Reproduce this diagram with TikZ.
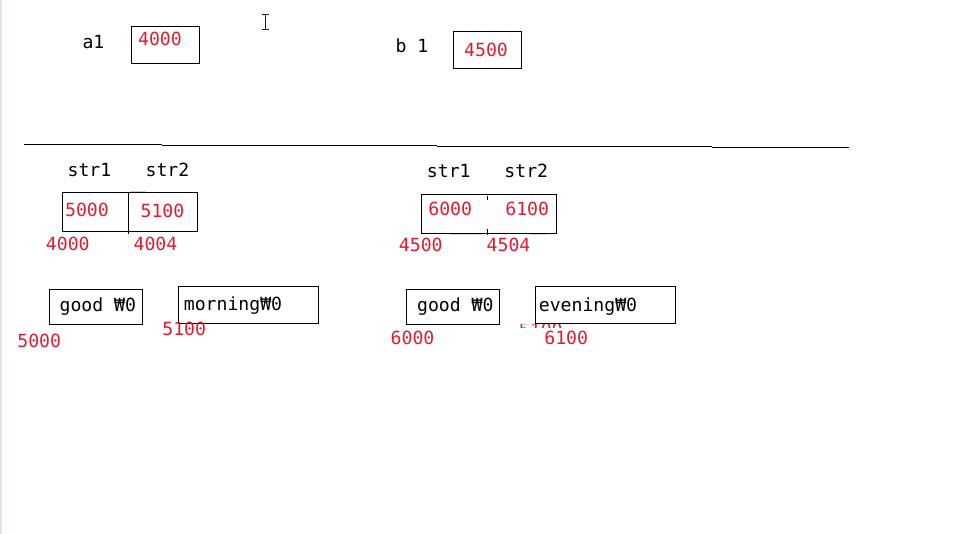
\documentclass[tikz,border=0pt]{standalone}
\usepackage{fontspec}
\setmainfont{DejaVu Sans Mono}
\definecolor{numred}{RGB}{222,30,48}
\definecolor{edge}{RGB}{222,226,240}
\definecolor{cursorc}{RGB}{30,30,50}
\begin{document}
\begin{tikzpicture}[x=0.75pt,y=-0.75pt,
  every node/.style={font=\fontsize{13.6pt}{16pt}\selectfont, inner sep=0pt, anchor=base},
  num/.style={text=numred},
  lbl/.style={text=black},
  box/.style 2 args={draw, line width=0.75pt, minimum width=#1*0.75pt, minimum height=#2*0.75pt, anchor=north west},
  rule/.style={line width=0.75pt},
  faint/.style={line width=0.75pt, draw=gray!35}]
\useasboundingbox (0,0) rectangle (965,534);
\fill[white] (0,0) rectangle (965,534);
% left window edge
\fill[edge] (0,0) rectangle (2,534);
% text cursor
\draw[cursorc, line width=0.75pt] (265,14.5) -- (265,29.5) (262,14.5) -- (268.5,14.5) (262,29.5) -- (268.5,29.5);

% top variables
\node[lbl] (la1) at (93.5,49) {a1};
\node[box={68}{37}] (ba1) at (130.5,26.5) {};
\node[num] (va1) at (160,46) {4000};
\node[lbl] (lb1) at (412,53) {b 1};
\node[box={68}{37}] (bb1) at (452.5,31.5) {};
\node[num] (vb1) at (486,56.7) {4500};

% separator line (stepped)
\draw[rule] (24,144.5) -- (162,144.5);
\draw[rule] (162,145.5) -- (437,145.5);
\draw[rule] (437,146.5) -- (712,146.5);
\draw[rule] (712,147.5) -- (849,147.5);

% left array
\node[lbl] (ls1) at (89.5,177) {str1};
\node[lbl] (ls2) at (167.5,177) {str2};
\node[box={135}{39}] (barrL) at (61.5,192.5) {};
\draw[rule] (128.5,193) -- (128.5,234.5);
\draw[faint] (130,191.5) -- (146,191.5);
\node[num] (vL1) at (87,216.7) {5000};
\node[num] (vL2) at (162.5,217.5) {5100};
\node[num] (aL1) at (67.8,251) {4000};
\node[num] (aL2) at (155.5,251) {4004};

\node[box={93}{35}] (bgoodL) at (48.5,289.5) {};
\node[lbl] (tgoodL) at (97.8,311.7) {good ₩0};
\node[box={140}{37}] (bmorn) at (177.5,286.5) {};
\node[lbl] (tmorn) at (233,310.5) {morning₩0};
\node[num] (agoodL) at (39.2,347.3) {5000};
\node[num] (amorn) at (184.2,336) {5100};

% right array
\node[lbl] (rs1) at (448.8,177.3) {str1};
\node[lbl] (rs2) at (526.3,177.3) {str2};
\node[box={135}{39}] (barrR) at (420.5,194.5) {};
\draw[rule] (487.5,196.5) -- (487.5,200);
\draw[rule] (487.5,229.5) -- (487.5,235);
\draw[faint] (450,234.5) -- (482,234.5);
\draw[faint] (530,234.5) -- (546,234.5);
\node[num] (vR1) at (450.2,216) {6000};
\node[num] (vR2) at (527.2,216) {6100};
\node[num] (aR1) at (420.8,251.7) {4500};
\node[num] (aR2) at (508.5,251.7) {4504};

\node[box={93}{35}] (bgoodR) at (405.5,289.5) {};
\node[lbl] (tgoodR) at (455.3,311.7) {good ₩0};
\node[box={140}{37}] (beven) at (534.5,286.5) {};
\node[lbl] (teven) at (588,312) {evening₩0};
\begin{scope}
  \clip (515,324.2) rectangle (570,327.6);
  \node[num] (ghost) at (540.8,336.5) {5100};
\end{scope}
\node[num] (agoodR) at (412.5,344.3) {6000};
\node[num] (aeven) at (566.2,344.3) {6100};
\end{tikzpicture}
\end{document}
